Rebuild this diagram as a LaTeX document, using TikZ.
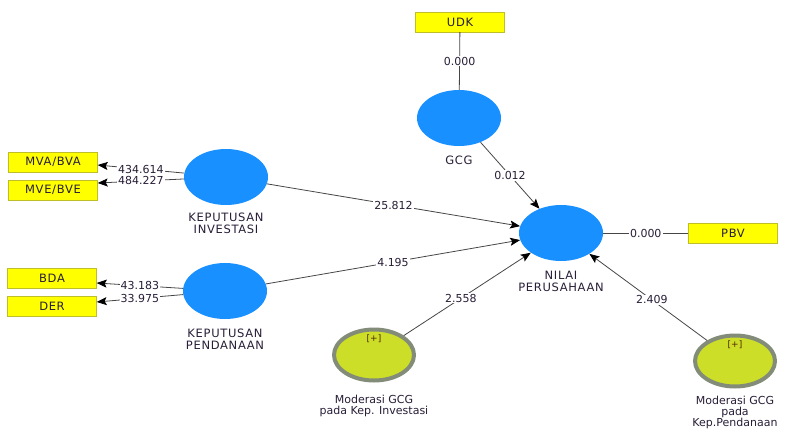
\documentclass[tikz,border=0pt]{standalone}
\usepackage{fontspec}
\setmainfont{DejaVu Sans}
\newfontfamily\capsfont{DejaVu Sans}[LetterSpace=6]
\usetikzlibrary{shapes.geometric, arrows.meta}
\definecolor{latentblue}{RGB}{24,144,255}
\definecolor{indyellow}{RGB}{255,255,0}
\definecolor{indborder}{RGB}{190,190,40}
\definecolor{modgreen}{RGB}{205,222,40}
\definecolor{modborder}{RGB}{130,140,120}
\definecolor{pathgray}{RGB}{70,70,70}
\definecolor{textdark}{RGB}{40,30,55}
\definecolor{plusbrown}{RGB}{80,40,0}
\tikzstyle{latent} = [ellipse, fill=latentblue, minimum width=84pt, minimum height=56pt, inner sep=0pt]
\tikzstyle{latentname} = [align=center, label distance=6pt, font=\capsfont\fontsize{11.5}{12.5}\selectfont]
\tikzstyle{moderator} = [ellipse, fill=modgreen, draw=modborder, line width=4pt, minimum width=80pt, minimum height=51pt, inner sep=0pt]
\tikzstyle{modname} = [align=center, font=\fontsize{11}{11}\selectfont]
\tikzstyle{indicator} = [rectangle, fill=indyellow, draw=indborder, minimum width=89pt, minimum height=20pt, inner sep=0pt, font=\capsfont\fontsize{11.5}{12}\selectfont]
\tikzstyle{arrow} = [draw=pathgray, line width=0.8pt, -{Stealth[length=10pt, width=8pt, inset=2pt, black]}]
\tikzstyle{link} = [draw=pathgray, line width=0.8pt]
\tikzstyle{coef} = [fill=white, inner sep=1pt]
\tikzstyle{plus} = [label distance=-19pt, font=\fontsize{9}{10}\selectfont, text=plusbrown]

\begin{document}
\begin{tikzpicture}[x=1pt, y=-1pt, font=\fontsize{11}{13}\selectfont, text=textdark]
\useasboundingbox (0,0) rectangle (785,429);

\node (nilai)	[latent, label={[latentname]below:NILAI\\PERUSAHAAN}]		at (561,233) {};
\node (gcg)	[latent, label={[latentname]below:GCG}]				at (459,118) {};
\node (kinv)	[latent, label={[latentname, label distance=4pt]below:KEPUTUSAN\\INVESTASI}]	at (226,177) {};
\node (kpend)	[latent, label={[latentname]below:KEPUTUSAN\\PENDANAAN}]	at (225,291) {};
\node (modinv)	[moderator, label={[plus]north:{[+]}}, label={[modname, label distance=9pt]below:Moderasi GCG\\pada Kep. Investasi}] at (374,355) {};
\node (modpend)	[moderator, label={[plus]north:{[+]}}, label={[modname, label distance=4pt]below:Moderasi GCG\\pada\\Kep.Pendanaan}] at (735,361) {};

\node (udk)	[indicator]				at (460,22)	{UDK};
\node (pbv)	[indicator]				at (733,233)	{PBV};
\node (mva)	[indicator]				at (53,162)	{MVA/BVA};
\node (mve)	[indicator, below of=mva, node distance=28pt]	{MVE/BVE};
\node (bda)	[indicator]				at (52,278)	{BDA};
\node (der)	[indicator, below of=bda, node distance=28pt]	{DER};

% outer model
\draw [link] (udk) -- node [coef] {0.000} (gcg);
\draw [link] (nilai) -- node [coef] {0.000} (pbv);
\draw [arrow] (kinv) -- node [coef] {434.614} ([yshift=-3pt]mva.east);
\draw [arrow] (kinv) -- node [coef] {484.227} ([yshift=7pt]mve.east);
\draw [arrow] (kpend) -- node [coef] {43.183} ([yshift=-5pt]bda.east);
\draw [arrow] (kpend) -- node [coef] {33.975} ([yshift=4pt]der.east);

% inner model
\draw [arrow] (gcg) -- node [coef] {0.012} (nilai);
\draw [arrow] (kinv) -- node [coef] {25.812} (nilai);
\draw [arrow] (kpend) -- node [coef] {4.195} (nilai);
\draw [arrow] (modinv) -- node [coef, pos=0.45] {2.558} (nilai);
\draw [arrow] (modpend) -- node [coef, pos=0.47] {2.409} (nilai);

\end{tikzpicture}
\end{document}
